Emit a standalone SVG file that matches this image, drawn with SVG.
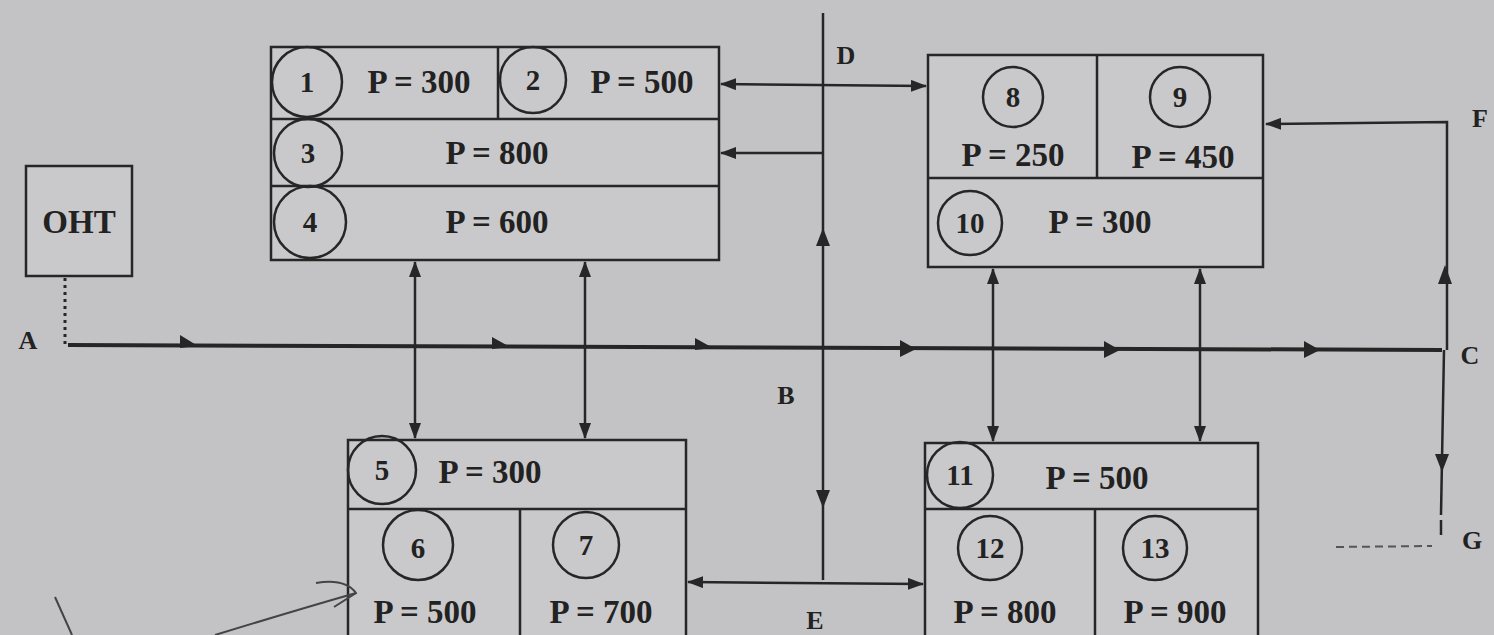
<svg xmlns="http://www.w3.org/2000/svg" width="1494" height="635" viewBox="0 0 1494 635">
<defs>
<style>
.bx{fill:#c9c9cb;stroke:#262626;stroke-width:2.5}
.ln{fill:none;stroke:#262626;stroke-width:2.5}
.cr{fill:none;stroke:#262626;stroke-width:2.5}
.t{font-family:"Liberation Serif",serif;font-weight:bold;font-size:33px;fill:#222;text-anchor:middle;dominant-baseline:central}
.n{font-family:"Liberation Serif",serif;font-weight:bold;font-size:29px;fill:#222;text-anchor:middle;dominant-baseline:central}
.lb{font-family:"Liberation Serif",serif;font-weight:bold;font-size:26px;fill:#222;text-anchor:middle;dominant-baseline:central}
.ah{fill:#262626}
</style>
<marker id="a" viewBox="0 0 16 12" refX="15" refY="6" markerWidth="16" markerHeight="12" markerUnits="userSpaceOnUse" orient="auto-start-reverse">
<path d="M0,0 L16,6 L0,12 z" fill="#262626"/>
</marker>
</defs>
<rect width="1494" height="635" fill="#c3c3c5"/>

<g id="oht">
<rect class="bx" x="26" y="166" width="106" height="110"/>
<text class="t" x="79" y="222" font-size="28">OHT</text>
</g>

<g id="block-top-left">
<rect class="bx" x="271" y="47" width="448" height="213"/>
<line class="ln" x1="271" y1="119" x2="719" y2="119"/>
<line class="ln" x1="271" y1="186" x2="719" y2="186"/>
<line class="ln" x1="498" y1="47" x2="498" y2="119"/>
<circle class="cr" cx="307" cy="82" r="35"/>
<text class="n" x="307" y="82">1</text>
<text class="t" x="419" y="82">P = 300</text>
<circle class="cr" cx="533" cy="80" r="33"/>
<text class="n" x="533" y="80">2</text>
<text class="t" x="642" y="82">P = 500</text>
<circle class="cr" cx="308" cy="153" r="34"/>
<text class="n" x="308" y="153">3</text>
<text class="t" x="497" y="153">P = 800</text>
<circle class="cr" cx="310" cy="222" r="36"/>
<text class="n" x="310" y="222">4</text>
<text class="t" x="497" y="222">P = 600</text>
</g>

<g id="block-top-right">
<rect class="bx" x="928" y="55" width="335" height="212"/>
<line class="ln" x1="928" y1="178" x2="1263" y2="178"/>
<line class="ln" x1="1097" y1="55" x2="1097" y2="178"/>
<circle class="cr" cx="1013" cy="97" r="30"/>
<text class="n" x="1013" y="97">8</text>
<text class="t" x="1013" y="155">P = 250</text>
<circle class="cr" cx="1180" cy="97" r="30"/>
<text class="n" x="1180" y="97">9</text>
<text class="t" x="1183" y="157">P = 450</text>
<circle class="cr" cx="970" cy="223" r="32"/>
<text class="n" x="970" y="223">10</text>
<text class="t" x="1100" y="222">P = 300</text>
</g>

<g id="block-bottom-left">
<rect class="bx" x="348" y="440" width="338" height="205"/>
<line class="ln" x1="348" y1="509" x2="686" y2="509"/>
<line class="ln" x1="520" y1="509" x2="520" y2="635"/>
<circle class="cr" cx="382" cy="470" r="34"/>
<text class="n" x="382" y="470">5</text>
<text class="t" x="490" y="472">P = 300</text>
<circle class="cr" cx="418" cy="545" r="35"/>
<text class="n" x="418" y="548">6</text>
<text class="t" x="425" y="612">P = 500</text>
<circle class="cr" cx="586" cy="545" r="33"/>
<text class="n" x="586" y="545">7</text>
<text class="t" x="601" y="612">P = 700</text>
</g>

<g id="block-bottom-right">
<rect class="bx" x="925" y="443" width="333" height="202"/>
<line class="ln" x1="925" y1="509" x2="1258" y2="509"/>
<line class="ln" x1="1095" y1="509" x2="1095" y2="635"/>
<circle class="cr" cx="960" cy="475" r="33"/>
<text class="n" x="960" y="475">11</text>
<text class="t" x="1097" y="478">P = 500</text>
<circle class="cr" cx="990" cy="548" r="32"/>
<text class="n" x="990" y="548">12</text>
<text class="t" x="1005" y="612">P = 800</text>
<circle class="cr" cx="1155" cy="548" r="32"/>
<text class="n" x="1155" y="548">13</text>
<text class="t" x="1175" y="612">P = 900</text>
</g>

<g id="connectors">
<line x1="68" y1="345" x2="1442" y2="350" stroke="#262626" stroke-width="4"/>
<line x1="65" y1="278" x2="65" y2="344" stroke="#262626" stroke-width="3" stroke-dasharray="3,4"/>
<path class="ah" d="M180,335 L198,346 L180,348 z"/>
<path class="ah" d="M492,337 L510,347 L492,349 z"/>
<path class="ah" d="M695,338 L713,348 L695,350 z"/>
<path class="ah" d="M900,340 L916,349 L900,357 z"/>
<path class="ah" d="M1104,341 L1120,350 L1104,358 z"/>
<path class="ah" d="M1304,341 L1320,350 L1304,358 z"/>

<line class="ln" x1="823" y1="13" x2="823" y2="580"/>
<path class="ah" d="M823,228 L830,246 L816,246 z"/>
<path class="ah" d="M823,508 L830,490 L816,490 z"/>
<line class="ln" x1="721" y1="84" x2="926" y2="86" marker-start="url(#a)" marker-end="url(#a)"/>
<line class="ln" x1="823" y1="153" x2="721" y2="153" marker-end="url(#a)"/>

<line class="ln" x1="688" y1="582" x2="923" y2="584" marker-start="url(#a)" marker-end="url(#a)"/>

<line class="ln" x1="415" y1="262" x2="415" y2="438" marker-start="url(#a)" marker-end="url(#a)"/>
<line class="ln" x1="585" y1="262" x2="585" y2="438" marker-start="url(#a)" marker-end="url(#a)"/>

<line class="ln" x1="993" y1="269" x2="993" y2="441" marker-start="url(#a)" marker-end="url(#a)"/>
<line class="ln" x1="1200" y1="269" x2="1200" y2="441" marker-start="url(#a)" marker-end="url(#a)"/>

<path class="ln" d="M1447,350 L1447,122 L1266,124" marker-end="url(#a)"/>
<path class="ah" d="M1445,265 L1452,284 L1438,284 z"/>
<line class="ln" x1="1444" y1="350" x2="1441" y2="515"/>
<line class="ln" x1="1441" y1="520" x2="1441" y2="535"/>
<path class="ah" d="M1442,472 L1449,454 L1435,454 z"/>
<line x1="1336" y1="547" x2="1432" y2="546" stroke="#555" stroke-width="2" stroke-dasharray="8,5"/>

<path d="M55,597 L72,635" fill="none" stroke="#444" stroke-width="2"/>
<path d="M215,635 Q290,612 356,593" fill="none" stroke="#444" stroke-width="2"/>
<path d="M316,583 Q345,578 356,593 L334,607" fill="none" stroke="#444" stroke-width="2"/>
</g>

<g id="labels">
<text class="lb" x="28" y="340">A</text>
<text class="lb" x="786" y="395">B</text>
<text class="lb" x="1470" y="355">C</text>
<text class="lb" x="846" y="55">D</text>
<text class="lb" x="815" y="620">E</text>
<text class="lb" x="1480" y="118">F</text>
<text class="lb" x="1472" y="540" fill="#555">G</text>
</g>
</svg>
